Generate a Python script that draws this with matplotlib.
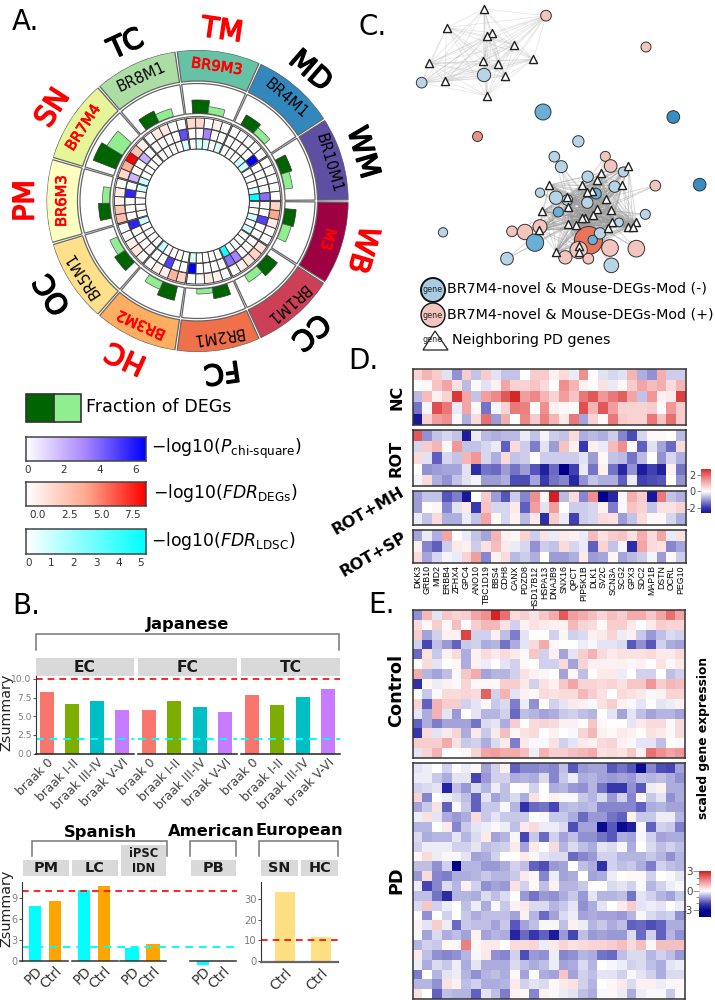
import itertools
import numpy as np
import matplotlib
matplotlib.use("Agg")
import matplotlib.pyplot as plt
import matplotlib.patheffects as pe
from matplotlib.collections import LineCollection
from matplotlib.colors import LinearSegmentedColormap
from matplotlib.patches import Rectangle, Polygon, Circle

W, H = 715, 1000

# panel A values, clockwise from 3 o'clock
modules = ["M3", "BR1M1", "BR2M1", "BR3M2", "BR5M1", "BR6M3", "BR7M4", "BR8M1", "BR9M3", "BR4M1", "BR10M1"]
regions = ["WB", "CC", "FC", "HC", "OC", "PM", "SN", "TC", "TM", "MD", "WM"]
red_modules = ["M3", "BR3M2", "BR6M3", "BR7M4", "BR9M3"]
red_regions = ["WB", "HC", "PM", "SN", "TM"]
module_colors = ["#9E0142", "#CD3F56", "#F0704A", "#FDAE61", "#FEE08B", "#FFFFBF", "#E6F598", "#ABDDA4", "#66C2A5", "#3288BD", "#5E4FA2"]
frac_dark = [11, 13, 11, 14, 12, 11, 24, 12, 13, 11, 11]
frac_light = [9, 8, 5, 8, 8, 7, 18, 8, 7, 7, 8]
fdr_degs = [[2.0, 4.0, 1.0, 0, 0], [1.2, 2.0, 1.2, 0.7, 0], [0, 0.7, 1.0, 0, 0], [2.0, 3.5, 0.8, 0.6, 0],
            [0, 1.2, 0.8, 0, 0], [3.0, 2.8, 0.6, 0.8, 0], [1.8, 3.8, 8.0, 2.8, 0.6], [0, 1.0, 1.0, 0, 0],
            [1.8, 1.8, 0, 0.7, 0], [0, 0, 0, 0, 0], [0, 0, 0, 0, 0]]
p_chi = [[0, 0, 4.5, 0, 0], [0, 0, 0, 3.0, 3.5], [0, 0, 0, 0, 6.0], [0, 0, 4.5, 0, 0],
         [0, 0, 0, 0, 5.2], [0, 0, 0, 5.2, 0], [1.8, 0, 0, 2.0, 0], [0, 0, 0, 0, 4.2],
         [0, 0, 3.0, 0, 0], [0, 0, 0, 0, 6.0], [0, 0, 0, 0, 3.5]]
fdr_ldsc = [[0, 0, 1.0, 0, 1.0], [0, 0, 0, 0, 4.5], [0, 0, 0, 0, 0.8], [0, 0, 0, 0, 1.2],
            [0, 0, 0, 0, 1.0], [0, 0, 0, 0, 0.8], [1.0, 0, 0, 0, 0], [0, 0, 0, 0, 0.8],
            [0, 0.8, 0.8, 0, 0.8], [0, 0, 0, 1.0, 1.0], [0, 0, 0, 0.8, 5.0]]

# panel B values
braak = ["braak 0", "braak I-II", "braak III-IV", "braak V-VI"]
braak_colors = ["#F8766D", "#7CAE00", "#00BFC4", "#C77CFF"]
japanese = {"EC": [8.2, 6.6, 7.1, 5.9], "FC": [5.8, 7.0, 6.2, 5.6], "TC": [7.9, 6.5, 7.55, 8.7]}
status = ["PD", "Ctrl"]
spanish_pm = [7.9, 8.6]
spanish_lc = [10.2, 10.7]
spanish_ipsc = [1.9, 2.4]
american_pb = [-0.6, -0.05]
european = [33.5, 11.7]

# panel C nodes, layout units
tri_top = [(342, 27), (230, 83), (365, 98), (352, 108), (432, 134), (178, 190), (340, 184), (385, 193),
           (490, 178), (224, 244), (405, 229), (350, 287)]
tri_low = [(538, 555), (692, 520), (682, 540), (636, 556), (757, 556), (775, 497), (665, 572), (650, 577),
           (707, 596), (592, 590), (595, 620), (517, 634), (680, 628), (722, 630), (670, 645), (645, 655),
           (636, 655), (595, 671), (617, 675), (726, 665), (799, 667), (775, 680), (790, 680), (714, 684),
           (508, 690), (558, 756), (626, 737), (628, 757)]
light_blue = [(155, 248, 16), (625, 424, 17), (553, 470, 16), (574, 500, 18), (760, 516, 15), (653, 530, 17),
              (734, 560, 17), (510, 578, 14), (592, 600, 16), (652, 608, 17), (558, 593, 20), (826, 643, 15),
              (747, 667, 13), (219, 697, 14), (690, 700, 17), (411, 776, 19), (724, 796, 22), (342, 225, 20)]
mid_blue = [(519, 336, 24), (678, 581, 16), (565, 636, 15), (495, 728, 26), (668, 720, 14)]
dark_blue = [(910, 351, 19), (989, 554, 19)]
pink = [(528, 47, 16), (828, 141, 15), (706, 469, 15), (722, 498, 19), (856, 557, 16), (426, 694, 16),
        (465, 696, 23), (510, 680, 21), (720, 744, 25), (799, 746, 25), (626, 750, 26), (586, 772, 20), (655, 776, 16)]
salmon = [(322, 407, 15)]
big_node = [(655, 720, 42)]

# panel D
genes = ["DKK3", "GRB10", "MID2", "ERBB4", "ZFHX4", "GPC4", "ANO10", "TBC1D19", "BBS4", "CDH8", "CANX", "PDZD8",
         "HSD17B12", "HSPA13", "DNAJB9", "SNX16", "QPCT", "PIP5K1B", "DLK1", "SV2C", "SCN3A", "SCG2", "GPX3",
         "SDC2", "MAP1B", "DSTN", "OCRL", "PEG10"]
nc = [[.6, 1.0, .7, -.3, -1.1, .7, -.6, .7, -.3, -.6, -.6, 0, .7, .7, .2, .5, -.2, 1.5, 0, -.3, -.4, -.3, 1.0, -.8, -1.1, 1.1, -.5, -.5],
      [0, .1, .8, 1.2, .4, -.7, .1, -.3, .2, 1.2, .6, .6, .8, .5, 0, 1.5, 1.0, .2, 0, .4, -.2, .1, .7, 1.2, .9, 1.1, .5, 1.0],
      [-.7, .9, .2, .6, 2.6, 1.2, -.6, 1.3, 1.6, 2.2, 2.8, 1.3, 1.6, 1.0, .6, 1.3, .8, 1.8, 2.2, 1.4, 1.8, 2.1, 1.2, -.6, 1.4, .2, .3, 2.5],
      [-1.4, -.1, 2.3, 1.8, -.2, 1.2, .1, -1.4, -.1, .6, 1.8, 1.7, 0, 1.5, .2, .1, 0, 2.3, 1.0, 2.2, 1.3, .6, .6, .6, .7, 0, 1.4, .7],
      [-2.6, .6, 1.3, 1.5, .1, -.8, .5, 1.9, -1.0, 1.1, 0, 1.6, .7, 1.7, 1.0, .3, 1.8, -.9, .6, .1, 1.8, .7, .6, .6, 1.8, .8, 1.9, .7]]
rot = [[2.2, -1.1, -.6, -.4, -.6, -2.5, -.2, -.7, -.8, -.7, -.7, -.2, -.6, -.1, -.5, -.6, .5, -.8, -.7, -.8, -.5, -1.2, -1.8, -.4, .1, .1, 0, -.7],
       [-.4, .7, 1.0, .1, 1.4, -.6, -.6, -.4, -.2, -1.6, .5, -.5, -1.3, -.3, -1.0, .8, .2, -2.0, .2, -.2, .9, 1.5, 0, -1.6, -.3, -.9, -1.5, .5],
       [.5, -.3, -1.6, -.4, -.6, 1.0, 1.4, -.4, -.8, .5, -.6, -.5, 0, -.5, -.5, -.5, -.5, -.3, -1.0, .1, -.6, -.7, -1.4, -.7, 0, -1.1, -.4, -.8],
       [0, -1.1, -1.0, -.9, -.9, -.3, -2.2, -1.4, -1.5, -1.0, -1.4, -1.0, -1.7, -2.4, -1.5, -3.0, -1.9, -.2, -1.4, .2, -1.4, -2.3, -1.1, -2.5, -1.9, -2.4, .2, -1.4],
       [-.1, .5, -.8, -1.1, -.6, -.3, -.1, -1.0, -1.0, -.8, -1.8, -1.8, -.9, -2.0, -1.4, -1.2, -2.3, -1.1, -.6, -.8, -.8, -1.6, -.2, -1.9, -1.8, -1.7, 0, -1.1]]
rot_mh = [[-1.0, -.6, -.6, -1.7, -1.3, -2.6, 0, .7, -1.0, -1.7, -.5, -1.2, 1.5, .1, 2.9, -.7, .5, -1.2, 1.5, -3, -2.3, .1, 1.1, .7, -2.6, 1.8, -.6, -.8],
          [-1.0, 0, .1, -1.2, -.3, .3, -2, .8, -.4, -.4, .3, -1.6, 1.3, -.3, 1.3, 0, -.5, -.5, -.4, .2, -1.3, .1, .8, .6, -.6, .4, .4, .6],
          [-.2, -.6, .5, -.8, -.8, -.2, -.6, 1.2, .1, -.4, .2, -.7, .3, -2.2, .7, -.2, -1.9, -.5, -.4, .5, .4, -1, -.6, .5, .1, .1, -.4, -.8]]
rot_sp = [[-.9, -.2, -.8, 1.2, 0, -.2, -.6, -.9, 1, .2, .1, .6, -.5, .4, -.2, .3, .2, -.2, .9, .4, .7, .8, .4, 1.1, .5, 1.2, -.2, .4],
          [.2, -1.2, -1.6, -.5, .3, .2, -.5, .4, .9, .3, -.2, -.4, -1.1, -.5, -.6, .5, -.4, -.2, -1.6, .6, -.6, -.1, -2.2, 1.2, .5, .4, -1.2, -.9],
          [.5, -.9, -.4, -.1, -.2, .6, 1.3, -1.2, .2, .5, -.7, -.5, -.8, 0, -1, -1, -.8, .3, -1, -.9, .1, -.9, -.7, -.5, -.1, -1.0, .1, -.5]]

# panel E
control = [[-1.2, 1, -.3, .8, .6, .7, 1.3, 1.6, 3.0, 2.0, .5, .7, .4, .8, 1.2, 2.3, 1.4, 1.2, .9, .6, .9, .7, 1.2, 1.2, .8, 1.3, 2.0, 1.3],
           [.5, .1, .7, .1, .9, 0, .7, 1.0, 1.0, .4, -.5, .2, .4, .3, .2, .2, 1.0, .6, .5, .1, .7, .7, .3, 0, .3, .7, .6, .6],
           [.7, -1, -.5, .2, .2, 2.6, -.5, -.5, .2, -.7, -1.4, -.3, 0, 0, -.5, .1, -.5, -.4, .2, .3, .6, -.2, .2, -.6, -1.1, -.7, -.4, -.5],
           [-.5, -2, -.7, -1.1, -1.7, -.6, -.5, -.9, -.8, -1.5, -.9, -.3, .5, 1.2, .1, 0, 0, -.2, -.1, -.3, -.3, -.4, -1.8, -1.2, -1.8, -.5, -.9, -1.0],
           [-1.6, .4, -.6, .2, .5, -.9, .2, .5, .3, .5, .3, .1, .8, -.5, .2, -1.0, -.3, .7, 1.1, .5, .3, .4, .4, .4, .5, .3, .3, .5],
           [0, .5, -.3, 0, .1, -.9, .2, -.2, 0, -.3, -.5, .1, 0, -.5, -.5, .5, -1.0, .6, .2, .2, .2, .2, -.1, .2, 0, .4, .1, .3],
           [1.2, -.8, -1, -.7, -.1, .8, 1.2, -1, -.8, -.8, -.5, .4, .2, -.1, 0, -1, .1, -.7, 0, .3, .3, -.2, 0, -.5, -.5, 0, -.7, -.5],
           [-2.3, .1, -.2, .2, .1, .6, .1, .1, .1, .7, .7, .3, -.5, .4, .2, .8, 1.3, .6, .6, .5, .6, .4, .8, .8, 1.5, .7, 1.0, .9],
           [0, -.6, .1, .5, .5, .6, .5, 2.2, -.5, 1.1, -.3, .2, .1, .5, .4, .5, .5, 1, .7, .4, 0, .5, .4, .3, -.1, .2, .6, .6],
           [.6, -1.7, 1.1, .7, .7, -.5, -.3, .1, -.6, -.4, -1.4, -.2, -1.2, 0, -.5, -.3, .3, .2, -.1, .4, .7, .2, -.1, -.3, 0, -.3, -.2, .2],
           [-.3, -.9, 1.1, -.3, -1.1, 0, -.3, -.8, -.8, -.5, -1.6, -.7, -.8, -1, -.9, -.6, -.5, -.7, -.8, 0, -.3, -1.0, -.3, -.7, -1, -.8, -.8, -1],
           [-1.7, -.9, -1.4, -1, -1, -1, -1.5, -.4, -.3, -.9, .7, 0, .5, .6, .5, .2, .2, 0, .8, .1, 0, 0, -.3, .3, .5, .5, .1, .5],
           [-2.2, .5, -.3, .3, .6, -.9, .3, -.6, .3, .9, .1, .4, .5, 0, .2, 0, -.1, .6, 1.0, .2, .1, .3, .2, 0, .4, .3, .1, .5],
           [.7, .7, .7, 1.2, .4, -.6, -.5, -.9, -.4, .3, -1.4, .3, -.1, -.1, .4, -.5, -.3, .3, .2, .5, .6, .2, -.1, -.3, -.3, -.7, 0, -.1],
           [-.3, .6, 1.1, 0, 0, .1, .6, 1.3, 1.4, 1.2, 1.2, .9, -.2, 1.1, .7, .7, .9, 1, 1.2, .4, .5, .4, .8, .2, 2.0, 1.6, 1.3, 1.5]]
pd_rows = [[-.3, -.2, 0, -.5, 0, -.2, .1, -1, -.5, .2, -1.7, -1.3, -1.3, -1.2, -1.3, -.7, -1.8, -1.1, -1, -1, -1.8, -1.5, -1.8, -3, -1.3, -1.9, -2, -1],
           [-.2, -.2, -.6, -.9, -.3, -.3, -2, -1.1, -.5, -.5, -.9, -.8, -.9, -.4, -1.3, -.6, -.2, -.9, -.8, -1, -1.1, -1, -1.1, -.7, -.8, -.7, -.9, -1.2],
           [-.5, -.4, -.3, -2.5, -.7, -1.1, -.4, -.8, -.2, -.7, 0, .1, -.5, 0, -.9, -.8, -1.1, -1.2, -.8, -1.5, -2.2, -2.2, -1.2, -1.8, -.2, .2, -.9, -.9],
           [.6, -1.3, 0, -.2, -.4, -.7, -1.7, -.3, -1, -.7, -.4, -.9, .4, 0, .2, -.1, -.1, -.6, -.8, -.4, -1.1, -.5, -1.3, .1, -.6, -.3, -1.2, -.9],
           [-1, -.6, .4, -1.7, -.1, -.6, -1.7, -.6, -.6, -.1, -.8, -2.3, -1.6, -1.5, -2, -.8, -.7, -.8, -.7, -1.3, -1.3, -1.3, -1.3, -1.7, -.9, -.8, -1, -1],
           [-.2, .4, -.3, -.9, -1.1, -.9, .5, -.6, -.3, -.6, -.6, -.6, 0, -.1, -.6, -.6, -.9, -1.6, -1.1, -1.1, -1.5, -1.7, .2, -.6, -.6, -.2, -.2, -.8],
           [-.8, -.8, 0, .3, -1.3, -.6, -.3, -.2, .1, -.2, -.7, .3, .5, -.2, -.2, -.4, -1.9, -1.0, -1, -3, -1.8, -3, -2.6, -.1, -1.7, -.5, -.6, -1.4],
           [-.4, -.9, -.8, -.8, -.3, -.8, -.4, .3, -1, -.8, -.1, -2, -.6, -1.6, -.5, -1, -.7, -1.2, -1.2, -1.5, -1.8, -.9, -1, -.1, -.5, -1, -.9, -.9],
           [-.5, -.2, -.2, -.2, -.5, -.5, -.3, -.7, -.6, -.5, .3, -1, .3, 0, .5, -.8, -.4, -.7, -.9, -.3, -.4, -.1, -.9, 0, -.4, -.7, -.5, -.7],
           [.1, .5, -.2, -.1, -.1, -.3, -1, -.9, -.5, 0, 0, .3, -.1, -.3, -.4, -.4, -1.6, -1.3, -1.1, -.5, -.5, -.8, -.8, -.8, -.6, -.8, -1.2, -.8],
           [-.7, -.7, -1.2, -.5, -3.2, -.8, -.8, -1.1, -1.1, -.9, -.5, -.7, -1.7, -1.9, -1.1, -1.0, 0, -.7, -.9, -2.3, -.5, -.7, -.6, -.9, -1.4, -.5, -.7, -.8],
           [-1.1, .5, -1.3, -1.4, -.9, -.9, -.8, -.6, -.8, -.8, -.6, .3, .1, -1.3, -.2, -1, -.9, 0, -1, -.9, -.2, 0, .1, .1, -.5, 0, -.1, -.3],
           [-.2, -2, -1.3, -.4, -.8, .2, -.5, -1.2, -1, -1.1, .4, -.5, .1, -.7, .2, -.8, -.8, -.6, 0, 0, -.4, -.3, -.5, -.1, -.8, -.5, -.2, -.1],
           [-.7, -.7, -1.5, -2.4, -.8, -.8, -.9, -.4, -.7, -.4, 0, -1.1, -1.5, -1.1, -1.2, -.9, -.6, -1.1, -.3, -.8, -.8, -.7, -1.5, -.3, -.5, -.8, -1, -.6],
           [-.4, .8, -.5, -.2, 0, -.7, -.2, -.9, -.1, -.6, .2, .3, -.4, -.4, -.8, -.6, -.3, -1.2, -.9, -.3, 0, .3, .7, -.3, -.2, -.3, 0, -.2],
           [0, -1.2, 0, -.5, 0, -.6, -.9, -.7, -.7, -.7, -1, .2, -.8, -1.6, -1, -.4, -.2, -1, -.9, -1, -1, -1.1, -.8, -.1, -.4, -.6, -.5, -1.2],
           [.2, -.3, .7, -.2, -1.6, -.6, -.7, -.7, -1, -.6, -1.8, -1, -.7, -.1, -.1, -.7, .2, -.2, -.8, -.6, -.9, -.7, -1.7, -1.6, -1.9, -1.7, -.9, -.9],
           [-.1, -1, -.4, -.9, -.7, -1, .2, -1, -.8, -.9, -2.5, -1.6, -2.2, -1.7, -2.7, -1.1, -2, -.7, -1.1, -1, -1.1, -1.1, -.4, -1.6, -.5, -1.7, -.8, -1.2],
           [-.8, -.5, -.6, .1, .1, 1.8, .1, .3, .3, 0, .5, .5, .6, -.2, .3, .6, .4, .5, .6, .6, .7, .9, .5, .9, .1, .9, .9, .9],
           [.3, -.7, -1.2, -1.3, -1.2, -.8, -.1, .3, -1.2, -1.3, -.5, -1.9, -1.1, -1.2, -.2, -1.3, -1.2, -.8, -.9, -1.5, -1.6, -.7, -.4, -.4, -.8, -.5, -.7, -1.1],
           [-.2, -.9, -.4, -.6, -.2, -.9, -.3, -.9, -.9, -.9, -.4, -.7, -.9, -.7, -.2, -1, -.9, -.4, -.8, 0, -.1, -.2, -.5, -.4, -.7, -.9, -.3, -.2],
           [-1.4, 0, -.8, -.3, -.2, -.8, -1.2, -.8, -.7, -.9, .1, -1, 0, -.9, -1, .8, -1, -.5, -.7, -.3, -.3, -.5, -.1, -.3, -.5, -.9, -.4, -.4],
           [-.8, -.8, -1.2, .4, .2, -.7, -.5, -.9, -.9, -.8, .3, -.5, -.3, -.4, .1, .3, .4, -.5, -.8, 0, .1, .3, -.4, .2, .2, -.2, -.1, .1],
           [.4, 0, -1.7, -.7, -.8, -.8, -1.7, -.3, -.7, -1.4, .2, .1, -1.3, .2, -.1, -.2, -.3, -.7, -.9, -.1, .1, -.2, -.9, -.2, -.1, -.1, -.6, -.1]]

purple_cmap = LinearSegmentedColormap.from_list("purple", ["#ffffff", "#a884ff", "#0000ff"])
red_cmap = LinearSegmentedColormap.from_list("red", ["#ffffff", "#ffa98f", "#ff0000"])
cyan_cmap = LinearSegmentedColormap.from_list("cyan", ["#ffffff", "#00ffff"])
heat_cmap = LinearSegmentedColormap.from_list(
    "heat", [(0, "#00008b"), (0.17, "#3a3ab0"), (0.5, "#ffffff"), (0.75, "#f09090"), (1, "#d01818")])


def px_ax(x0, y0, x1, y1, **kw):
    # axes placed by pixel box, y measured from the top
    return fig.add_axes([x0 / W, 1 - y1 / H, (x1 - x0) / W, (y1 - y0) / H], **kw)


fig = plt.figure(figsize=(W / 100, H / 100), dpi=100)
canvas = px_ax(0, 0, W, H)
canvas.set_xlim(0, W)
canvas.set_ylim(H, 0)
canvas.axis("off")

for lab, x, y in [("A.", 12, 22), ("B.", 12, 606), ("C.", 359, 27), ("D.", 348, 361), ("E.", 368, 605)]:
    canvas.text(x, y, lab, fontsize=20, ha="left", va="center")

# A. circular plot
cx, cy, rad = 197.5, 201, 151
pol = px_ax(cx - rad, cy - rad, cx + rad, cy + rad, projection="polar")
pol.set_theta_zero_location("N")
pol.set_theta_direction(-1)
pol.set_ylim(0, rad)
pol.axis("off")
step = 360 / len(modules)
cell = (step - 1) / 5
for i, name in enumerate(modules):
    start = 90 + i * step
    mid = start + step / 2
    for lo, ht, col in [(120, 31, module_colors[i]), (87.5, 30, "white"), (52, 32.5, "white")]:
        pol.bar(np.radians(mid), ht, width=np.radians(step - 0.9), bottom=lo, color=col, edgecolor="#666666", linewidth=0.9)
    is_red = name in red_modules
    mt = pol.text(np.radians(mid), 136, name, rotation=-mid, rotation_mode="anchor", ha="center", va="center",
                  fontsize=10.6, color="red" if is_red else "black")
    if is_red:
        mt.set_path_effects([pe.withStroke(linewidth=0.5, foreground="red")])
    reg = regions[i]
    col = "red" if reg in red_regions else "black"
    rt = pol.text(np.radians(mid), 172, reg, rotation=-mid, rotation_mode="anchor", ha="center", va="center",
                  fontsize=20.5, color=col, clip_on=False)
    rt.set_path_effects([pe.withStroke(linewidth=1.1, foreground=col)])
    pol.bar(np.radians(start + 10), frac_dark[i], width=np.radians(10), bottom=88, color="#006400", edgecolor="#333333", linewidth=0.5)
    pol.bar(np.radians(start + 20), frac_light[i], width=np.radians(10), bottom=88, color="#90EE90", edgecolor="#555555", linewidth=0.5)
    for j in range(5):
        theta = np.radians(start + 0.5 + (j + 0.5) * cell)
        for vals, cmap, vmax, lo in [(fdr_degs, red_cmap, 8, 73), (p_chi, purple_cmap, 6, 62.5), (fdr_ldsc, cyan_cmap, 5, 52)]:
            pol.bar(theta, 10, width=np.radians(cell), bottom=lo, color=cmap(vals[i][j] / vmax), edgecolor="#333333", linewidth=0.6)

# A. legend
canvas.add_patch(Rectangle((26, 394), 27.5, 28, fc="#006400", ec="#333333", lw=1.2))
canvas.add_patch(Rectangle((53.5, 394), 27.5, 28, fc="#90EE90", ec="#333333", lw=1.2))
canvas.text(86, 407, "Fraction of DEGs", fontsize=12.6, va="center")
bars = [(437, 461, purple_cmap, (-0.1, 6.6), [0, 2, 4, 6], ["0", "2", "4", "6"], "$-$log10($P_{\\mathrm{chi\u2010square}}$)", 151),
        (482, 506, red_cmap, (-0.95, 8.55), [0, 2.5, 5, 7.5], ["0.0", "2.5", "5.0", "7.5"], "$-$log10($FDR_{\\mathrm{DEGs}}$)", 153),
        (529, 554, cyan_cmap, (-0.13, 5.23), [0, 1, 2, 3, 4, 5], ["0", "1", "2", "3", "4", "5"], "$-$log10($FDR_{\\mathrm{LDSC}}$)", 151)]
for y0, y1, cmap, xl, ticks, labs, title, tx in bars:
    cb = px_ax(26, y0, 146, y1)
    cb.imshow(np.linspace(0, 1, 200)[None, :], cmap=cmap, aspect="auto", extent=(xl[0], xl[1], 0, 1))
    cb.set_xticks(ticks)
    cb.set_xticklabels(labs, fontsize=7.5, color="#333333")
    cb.set_yticks([])
    cb.tick_params(length=0, pad=3)
    for s in cb.spines.values():
        s.set_color("#444444")
        s.set_linewidth(1.1)
    canvas.text(tx, (y0 + y1) / 2 - 0.5, title, fontsize=12.4, va="center")


# B. brackets, titles and strips
def bracket(x0, x1, ytop, ybot):
    canvas.plot([x0, x0, x1, x1], [ybot, ytop, ytop, ybot], color="#777777", lw=1.1, solid_joinstyle="miter")


def strip(x0, x1, y0, y1, label, size):
    canvas.add_patch(Rectangle((x0, y0), x1 - x0, y1 - y0, fc="#D9D9D9", ec="none"))
    canvas.text((x0 + x1) / 2, (y0 + y1) / 2 + 0.3, label, fontsize=size, fontweight="bold", color="#1a1a1a", ha="center", va="center")


bracket(36, 339, 634, 650)
canvas.text(188, 624, "Japanese", fontsize=11.7, fontweight="bold", ha="center", va="center")
bracket(32, 167, 841, 856)
bracket(190, 236, 841, 856)
bracket(259, 338, 841, 856)
canvas.text(100, 832, "Spanish", fontsize=11.7, fontweight="bold", ha="center", va="center")
canvas.text(211, 832, "American", fontsize=11.7, fontweight="bold", ha="center", va="center")
canvas.text(299, 831, "European", fontsize=11.7, fontweight="bold", ha="center", va="center")
for (x0, x1), name in zip([(36, 134), (138, 237), (241, 340)], japanese):
    strip(x0, x1, 658, 676, name, 11.2)
for x0, x1, name in [(23, 69, "PM"), (72, 118, "LC"), (191, 236, "PB"), (261, 298, "SN"), (301, 338, "HC")]:
    strip(x0, x1, 860, 876, name, 10.4)
strip(121, 166, 845, 876, "iPSC\nIDN", 8.3)
canvas.text(6, 712, "Zsummary", fontsize=10.4, rotation=90, ha="center", va="center", color="#222222")
canvas.text(6, 908, "Zsummary", fontsize=10.4, rotation=90, ha="center", va="center", color="#222222")


def clean(ax):
    ax.patch.set_alpha(0)
    for s in ["top", "right", "left"]:
        ax.spines[s].set_visible(False)


# B. Japanese facets
for k, ((x0, x1), (name, vals)) in enumerate(zip([(36, 134), (138, 237), (241, 340)], japanese.items())):
    ax = px_ax(x0, 676, x1, 753.5)
    ax.bar(range(4), vals, width=0.56, color=braak_colors)
    ax.set_xlim(-0.44, 3.48)
    ax.set_ylim(0, 10.4)
    ax.axhline(10, color="red", lw=1.2, dashes=(4, 3))
    ax.axhline(2, color="#00ffff", lw=1.4, dashes=(4, 3))
    clean(ax)
    ax.spines["bottom"].set_color("#222222")
    ax.spines["bottom"].set_linewidth(1.1)
    ax.set_xticks(range(4))
    ax.set_xticklabels(braak, rotation=45, ha="right", rotation_mode="anchor", fontsize=8.8, color="#444444")
    ax.tick_params(axis="x", length=0, pad=2)
    ax.tick_params(axis="y", length=2, pad=1, labelsize=6.6, labelcolor="#808080", color="#555555", width=0.7)
    if k == 0:
        ax.spines["left"].set_visible(True)
        ax.spines["left"].set_color("#333333")
        ax.set_yticks([0, 2.5, 5, 7.5, 10])
        ax.set_yticklabels(["0.0", "2.5", "5.0", "7.5", "10.0"])
    else:
        ax.set_yticks([])

# B. PD / Ctrl groups
for (x0, x1, c0, c1), vals in zip([(20, 68, 35, 55), (72, 118, 84, 104), (120, 166, 132, 153), (190, 236, 203, 223)],
                                  [spanish_pm, spanish_lc, spanish_ipsc, american_pb]):
    ax = px_ax(x0, 882, x1, 966)
    ax.bar([0, 1], vals, width=0.64, color=["#00FFFF", "#FFA500"])
    sp = c1 - c0
    ax.set_xlim((x0 - c0) / sp, (x1 - c0) / sp)
    ax.set_ylim(-0.71, 11.29)
    clean(ax)
    ax.spines["bottom"].set_position(("data", 0))
    ax.spines["bottom"].set_color("#333333")
    ax.spines["bottom"].set_linewidth(1.1)
    ax.set_yticks([])
    ax.set_xticks([0, 1])
    ax.set_xticklabels(status, rotation=45, ha="right", rotation_mode="anchor", fontsize=9.8, color="#333333")
    ax.tick_params(axis="x", length=0, pad=2)
    for t in ax.get_xticklabels():
        t.set_y(-0.03)

low = px_ax(22, 882, 237, 966)
low.set_xlim(0, 1)
low.set_ylim(-0.71, 11.29)
low.axhline(10, color="red", lw=1.2, dashes=(4, 3))
low.axhline(2, color="#00ffff", lw=1.4, dashes=(4, 3))
clean(low)
low.spines["bottom"].set_visible(False)
low.spines["left"].set_visible(True)
low.spines["left"].set_bounds(0, 11.29)
low.spines["left"].set_color("#333333")
low.set_xticks([])
low.set_yticks([0, 3, 6, 9])
low.tick_params(axis="y", length=2, pad=1, labelsize=7, labelcolor="#808080", color="#555555", width=0.7)

eu = px_ax(261, 882, 338, 962)
eu.bar([0, 1], european, width=0.56, color="#FEE082")
eu.set_xlim(-0.667, 1.47)
eu.set_ylim(-0.5, 38.5)
eu.axhline(10, color="red", lw=1.2, dashes=(4, 3))
clean(eu)
eu.spines["left"].set_visible(True)
eu.spines["left"].set_color("#333333")
eu.spines["bottom"].set_color("#666666")
eu.spines["bottom"].set_linewidth(1.6)
eu.set_yticks([0, 10, 20, 30])
eu.set_xticks([0, 1])
eu.set_xticklabels(["Ctrl", "Ctrl"], rotation=45, ha="right", rotation_mode="anchor", fontsize=9.8, color="#333333")
eu.tick_params(axis="x", length=0, pad=3)
eu.tick_params(axis="y", length=2, pad=1, labelsize=7.2, labelcolor="#808080", color="#555555", width=0.7)

# C. network
net = px_ax(370, 0, 715, 280)
net.set_xlim(0, 1035)
net.set_ylim(840, 0)
net.axis("off")
top_members = tri_top + [(342, 225), (155, 248), (528, 47)]
segs = [[a, b] for a, b in itertools.combinations(top_members, 2)]
net.add_collection(LineCollection(segs, colors="#b0b0b0", linewidths=0.6, alpha=0.3, zorder=1))
segs = [[a, b] for a, b in itertools.combinations(tri_low, 2)]
hubs = [tri_low[12], tri_low[15], tri_low[10]]
lower_nodes = [n[:2] for n in light_blue + mid_blue + pink if 440 < n[1] < 830 and n[0] > 400]
segs += [[a, h] for a in lower_nodes for h in hubs]
net.add_collection(LineCollection(segs, colors="#999999", linewidths=0.6, alpha=0.42, zorder=1))
for group, col in [(big_node, "#E8745C"), (salmon, "#E89484"), (pink, "#F2C6BC"), (light_blue, "#B8D5E8"),
                   (mid_blue, "#6BAED6"), (dark_blue, "#3A8DC0")]:
    xs = [n[0] for n in group]
    ys = [n[1] for n in group]
    sizes = [(n[2] * 2 / 3 * 0.72) ** 2 for n in group]
    net.scatter(xs, ys, s=sizes, c=col, edgecolors="#333333", linewidths=0.7, zorder=3)
for group in (tri_top, tri_low):
    net.scatter([p[0] for p in group], [p[1] for p in group], s=34, marker="^", c="white", edgecolors="#222222", linewidths=1.0, zorder=4)

# C. legend
canvas.add_patch(Circle((433, 290), 12, fc="#A9CCE3", ec="#111111", lw=1.4))
canvas.add_patch(Circle((433, 315), 12, fc="#F2C6BC", ec="#111111", lw=1.0))
canvas.add_patch(Polygon([(435, 331), (423, 350), (448, 350)], closed=True, fc="white", ec="#222222", lw=0.9))
canvas.text(433, 290, "gene", fontsize=5.8, ha="center", va="center", color="#222222")
canvas.text(433, 315, "gene", fontsize=5.8, ha="center", va="center", color="#222222")
canvas.text(433, 340, "gene", fontsize=5.8, ha="center", va="center", color="#222222")
canvas.text(447, 288.5, "BR7M4-novel & Mouse-DEGs-Mod (-)", fontsize=10.3, va="center")
canvas.text(447, 314, "BR7M4-novel & Mouse-DEGs-Mod (+)", fontsize=10.3, va="center")
canvas.text(452, 340, "Neighboring PD genes", fontsize=10.3, va="center")


# D and E heatmaps
def heat(y0, y1, rows, x0=412.7, x1=686, lim=3.0):
    ax = px_ax(x0, y0, x1, y1)
    ax.pcolormesh(np.array(rows), cmap=heat_cmap, vmin=-lim, vmax=lim)
    ax.invert_yaxis()
    ax.set_xticks([])
    ax.set_yticks([])
    for s in ax.spines.values():
        s.set_color("#333333")
        s.set_linewidth(1.1)
    return ax


heat(368.7, 425, nc)
heat(430, 486, rot)
heat(491, 524.7, rot_mh)
last = heat(530, 562.7, rot_sp)
last.set_xticks(np.arange(len(genes)) + 0.5)
last.set_xticklabels(genes, rotation=90, fontsize=6.3, family="Liberation Sans")
last.tick_params(axis="x", length=0, pad=2)
for lab, x, y, rota in [("NC", 397, 397, 90), ("ROT", 396, 458, 90), ("ROT+MH", 368, 511, 30), ("ROT+SP", 373, 555, 30)]:
    canvas.text(x, y, lab, fontsize=11.6, fontweight="bold", rotation=rota, ha="center", va="center")

heat(610, 758, control, 412.7, 685, 3.2)
heat(763, 999, pd_rows, 412.7, 685, 3.2)
canvas.text(396, 690, "Control", fontsize=12.7, fontweight="bold", rotation=90, ha="center", va="center")
canvas.text(396, 880, "PD", fontsize=12.7, fontweight="bold", rotation=90, ha="center", va="center")
canvas.text(703, 738, "scaled gene expression", fontsize=8.8, fontweight="bold", rotation=90, ha="center", va="center")

# heatmap colour keys
key = px_ax(700.7, 469.3, 710.7, 512.7)
key.imshow(np.linspace(2.7, -2.6, 100)[:, None], cmap=heat_cmap, vmin=-3, vmax=3, aspect="auto", extent=(0, 1, -2.6, 2.7))
key.set_xticks([])
key.set_yticks([-2, 0, 2])
key.set_yticklabels(["-2", "0", "2"], fontsize=7, color="#444444")
key.tick_params(axis="y", length=3, pad=0.5, width=0.5, color="#666666")
for s in key.spines.values():
    s.set_visible(False)

key = px_ax(699.3, 870.7, 711, 916.7)
key.imshow(np.linspace(3.1, -4.1, 100)[:, None], cmap=heat_cmap, vmin=-3.2, vmax=3.2, aspect="auto", extent=(0, 1, -4.1, 3.1))
key.set_xticks([])
key.set_yticks([-3, 0, 3])
key.set_yticklabels(["-3", "0", "3"], fontsize=7.5, color="#444444")
key.set_yticks([-2, -1, 1, 2], minor=True)
key.tick_params(axis="y", which="major", length=4, pad=0.5, width=0.5, color="#666666")
key.tick_params(axis="y", which="minor", length=2, width=0.5, color="#666666")
for s in key.spines.values():
    s.set_visible(False)

fig.savefig("out.png", dpi=100, facecolor="white")
